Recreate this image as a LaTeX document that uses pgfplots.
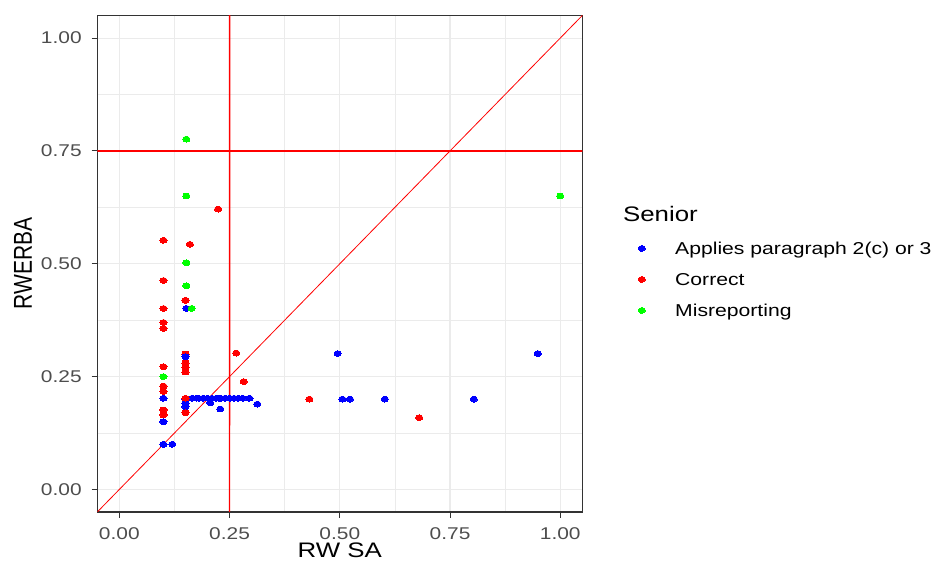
\documentclass[border=0pt]{standalone}
\usepackage{fontspec}
\setmainfont{Liberation Sans}[FakeStretch=1.23]
\newfontfamily\plainfont{Liberation Sans}
\usepackage{pgfplots}
\pgfplotsset{compat=1.18}
\definecolor{cblue}{HTML}{0000FF}
\definecolor{cred}{HTML}{FF0000}
\definecolor{cgreen}{HTML}{00FF00}
\definecolor{grid92}{HTML}{EBEBEB}
\definecolor{g20}{HTML}{333333}
\definecolor{g30}{HTML}{4D4D4D}
\pgfplotsset{
  pt/.style={only marks, mark=*, mark size=1.45pt, color=#1, mark options={fill=#1, line width=0pt, xscale=1.24}},
}
\begin{document}
\begin{tikzpicture}
\path[use as bounding box] (0pt,0pt) rectangle (470.5pt,280.5pt);
\begin{axis}[
  at={(48.65pt,24.5pt)}, anchor=south west,
  scale only axis, width=242.5pt, height=248.25pt,
  xmin=-0.05, xmax=1.05, ymin=-0.05, ymax=1.05,
  xtick={0,0.25,0.5,0.75,1}, ytick={0,0.25,0.5,0.75,1},
  xticklabels={0.00,0.25,0.50,0.75,1.00},
  yticklabels={0.00,0.25,0.50,0.75,1.00},
  minor xtick={0.125,0.375,0.625,0.875},
  minor ytick={0.125,0.375,0.625,0.875},
  grid=both,
  major grid style={grid92, line width=0.55pt},
  minor grid style={grid92, line width=0.3pt},
  tick pos=left, tick align=outside,
  major tick length=2.8pt, minor tick length=0pt,
  tick style={g20, line width=0.5pt},
  axis line style={g20, line width=0.55pt},
  ticklabel style={font=\fontsize{8.5}{10}\selectfont, text=g30},
  xticklabel style={yshift=-1.5pt},
  yticklabel style={xshift=-1.5pt},
  xlabel={RW SA},
  xlabel style={at={(axis description cs:0.5,-0.0765)}, anchor=center, font=\fontsize{10.5}{12}\selectfont},
  clip=true,
  legend cell align=left,
  legend style={at={(1.1004,0.5458)}, anchor=north west, draw=none, fill=none,
    inner sep=0pt, row sep=7.5pt, column sep=11.5pt,
    font=\fontsize{8.6}{10}\selectfont,
    nodes={inner sep=0pt, text height=6.5pt, text depth=1.5pt},
    cells={anchor=base west}},
  legend image code/.code={\path (-5pt,0pt) (5pt,0pt); \draw[#1] plot coordinates {(0pt,3pt)};},
]
\addlegendimage{pt=cblue}
\addlegendentry{Applies paragraph 2(c) or 3}
\addlegendimage{pt=cred}
\addlegendentry{Correct}
\addlegendimage{pt=cgreen}
\addlegendentry{Misreporting}

\addplot[draw=cred, color=cred, line width=0.7pt, forget plot] coordinates {(-0.1,0.75) (1.1,0.75)};
\addplot[draw=cred, color=cred, line width=0.7pt, forget plot] coordinates {(0.2499,-0.1) (0.25,0.5) (0.2501,1.1)};
\addplot[draw=cred, color=cred, line width=0.4pt, forget plot] coordinates {(-0.1,-0.1) (1.1,1.1)};

% Applies paragraph 2(c) or 3
\addplot[pt=cblue, forget plot] coordinates {
(0.10,0.202) (0.10,0.150) (0.10,0.100) (0.12,0.100)
(0.152,0.401) (0.15,0.20) (0.15,0.19) (0.15,0.183)
(0.165,0.202) (0.175,0.202) (0.18,0.202) (0.19,0.202) (0.20,0.202)
(0.21,0.202) (0.22,0.202) (0.225,0.202) (0.23,0.202) (0.24,0.202)
(0.25,0.202) (0.26,0.202) (0.27,0.202) (0.28,0.202) (0.295,0.202)
(0.206,0.192) (0.229,0.178) (0.313,0.189)
(0.495,0.301) (0.949,0.301)
(0.506,0.200) (0.523,0.200) (0.602,0.200) (0.804,0.200)
};
% Correct
\addplot[pt=cred, forget plot] coordinates {
(0.224,0.621) (0.10,0.552) (0.16,0.543) (0.10,0.463) (0.15,0.419)
(0.10,0.401) (0.10,0.370) (0.10,0.357) (0.10,0.272) (0.10,0.229)
(0.10,0.217) (0.10,0.176) (0.10,0.165)
(0.15,0.300) (0.15,0.280) (0.15,0.270) (0.15,0.260)
(0.15,0.202) (0.15,0.170)
(0.265,0.302) (0.282,0.239) (0.431,0.200) (0.680,0.159)
};
\addplot[pt=cblue, forget plot] coordinates {(0.15,0.294)};
% Misreporting
\addplot[pt=cgreen, forget plot] coordinates {
(0.152,0.776) (0.152,0.650) (0.152,0.502) (0.152,0.451)
(0.164,0.401) (0.10,0.250) (1.00,0.650)
};
\end{axis}
\node[anchor=base west, inner sep=0pt, font=\fontsize{10.5}{12}\selectfont] at (311.35pt,169.65pt) {Senior};
\node[font=\plainfont\fontsize{10.5}{12}\selectfont, xscale=1.23, rotate=90] at (11.5pt,148.65pt) {RWERBA};
\end{tikzpicture}
\end{document}
